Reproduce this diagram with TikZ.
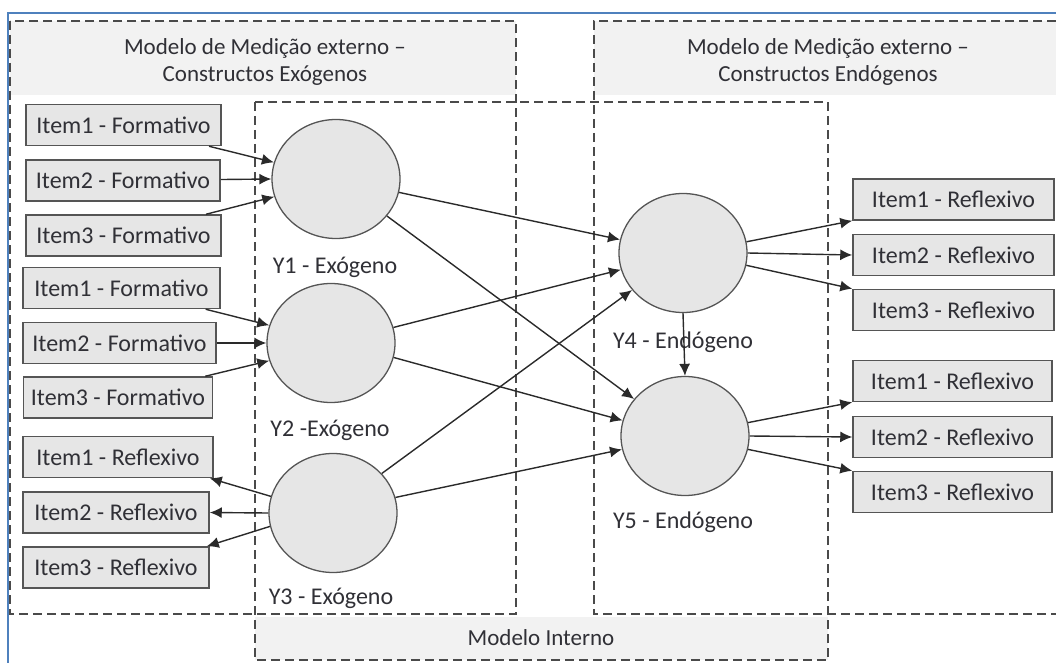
\documentclass[tikz,border=0pt]{standalone}
\usepackage{fontspec}
\setmainfont{Carlito}
\usetikzlibrary{shapes.geometric,arrows.meta,calc}
\definecolor{framec}{HTML}{4F81BD}
\definecolor{dashc}{HTML}{4A4A4A}
\definecolor{hdrfill}{HTML}{F2F2F2}
\definecolor{nodefill}{HTML}{E6E6E6}
\definecolor{nodeline}{HTML}{555555}
\definecolor{txt}{HTML}{303036}
\definecolor{arrc}{HTML}{2A2A2A}
\begin{document}
\begin{tikzpicture}[x=1pt,y=-1pt,
  dashbox/.style={draw=dashc,line width=1.8pt,dash pattern=on 9pt off 5pt},
  item/.style={draw=nodeline,line width=1.5pt,fill=nodefill,minimum height=41pt,inner sep=0pt,font=\fontsize{24}{28}\selectfont,text=txt},
  lat/.style={ellipse,draw=nodeline,line width=1.3pt,fill=nodefill,minimum width=128pt,minimum height=119pt,inner sep=0pt},
  lbl/.style={font=\fontsize{24}{28}\selectfont,text=txt},
  hdr/.style={font=\fontsize{23}{27}\selectfont,text=txt,align=center},
  arr/.style={draw=arrc,line width=1.4pt,-{Latex[length=12pt,width=11pt]}}]
\useasboundingbox (0,0) rectangle (1056,663);
% header fills
\fill[hdrfill] (10,21) rectangle (516,95);
\fill[hdrfill] (594,21) rectangle (1056,95);
\fill[hdrfill] (255,617) rectangle (828,660);
% frame
\draw[framec,line width=2pt] (8,663) -- (8,13) -- (1056,13);
% dashed regions
\draw[dashbox] (10,21) rectangle (516,614);
\draw[dashbox] (1056,21) -- (594,21) -- (594,614) -- (1056,614);
\draw[dashbox] (255,102) rectangle (828,660);
% headers
\node[hdr] (hx) at (265,62) {Modelo de Medição externo –\\Constructos Exógenos};
\node[hdr] (hn) at (828,62) {Modelo de Medição externo –\\Constructos Endógenos};
\node[hdr] (hi) at (541,638) {Modelo Interno};
% left items
\node[item,minimum width=195pt] (f1) at (123.5,125) {Item1 - Formativo};
\node[item,minimum width=194pt] (f2) at (123,180.5) {Item2 - Formativo};
\node[item,minimum width=195pt] (f3) at (123.5,235.5) {Item3 - Formativo};
\node[item,minimum width=197pt] (f4) at (121.5,288) {Item1 - Formativo};
\node[item,minimum width=193pt] (f5) at (119.5,343) {Item2 - Formativo};
\node[item,minimum width=189pt] (f6) at (118,397.5) {Item3 - Formativo};
\node[item,minimum width=190pt] (r1) at (118,457) {Item1 - Reflexivo};
\node[item,minimum width=186pt] (r2) at (116,512.5) {Item2 - Reflexivo};
\node[item,minimum width=186pt] (r3) at (116,567.5) {Item3 - Reflexivo};
% right items
\node[item,minimum width=201pt] (s1) at (953.5,199.5) {Item1 - Reflexivo};
\node[item,minimum width=201pt] (s2) at (953.5,255) {Item2 - Reflexivo};
\node[item,minimum width=201pt] (s3) at (953.5,310) {Item3 - Reflexivo};
\node[item,minimum width=199pt] (s4) at (952.5,381) {Item1 - Reflexivo};
\node[item,minimum width=199pt] (s5) at (952.5,437) {Item2 - Reflexivo};
\node[item,minimum width=199pt] (s6) at (952.5,492) {Item3 - Reflexivo};
% latent variables
\node[lat] (Y1) at (336,179) {};
\node[lat] (Y2) at (331,343) {};
\node[lat] (Y3) at (333,513) {};
\node[lat] (Y4) at (683,253) {};
\node[lat] (Y5) at (685,436) {};
\node[lbl] (l1) at (335,267) {Y1 - Exógeno};
\node[lbl] (l2) at (330,430) {Y2 -Exógeno};
\node[lbl] (l3) at (331,598) {Y3 - Exógeno};
\node[lbl] (l4) at (683,342) {Y4 - Endógeno};
\node[lbl] (l5) at (683,522) {Y5 - Endógeno};
% formative arrows
\draw[arr] (f1) -- (Y1.165);
\draw[arr] (f2) -- (Y1.180);
\draw[arr] (f3) -- (Y1.196);
\draw[arr] (f4) -- (Y2.164);
\draw[arr] (f5) -- (Y2.180);
\draw[arr] (f6) -- (Y2.196);
% reflective arrows left
\draw[arr] (Y3.165) -- ($(r1.south east)+(-4,0)$);
\draw[arr] (Y3.180) -- (r2.east);
\draw[arr] (Y3.192) -- ($(r3.north east)+(-3,0)$);
% inner model
\draw[arr] (Y1.348) -- (Y4.168);
\draw[arr] (Y1.324) -- (Y5.144);
\draw[arr] (Y2.14) -- (Y4.195);
\draw[arr] (Y2.347) -- (Y5.166);
\draw[arr] (Y3.39) -- (Y4.216);
\draw[arr] (Y3.14) -- (Y5.192);
\draw[arr] (Y4.south) -- (Y5.north);
% reflective arrows right
\draw[arr] (Y4.10) -- (s1.south west);
\draw[arr] (Y4.0) -- (s2.west);
\draw[arr] (Y4.349) -- (s3.north west);
\draw[arr] (Y5.12) -- (s4.south west);
\draw[arr] (Y5.0) -- (s5.west);
\draw[arr] (Y5.348) -- (s6.north west);
\end{tikzpicture}
\end{document}
